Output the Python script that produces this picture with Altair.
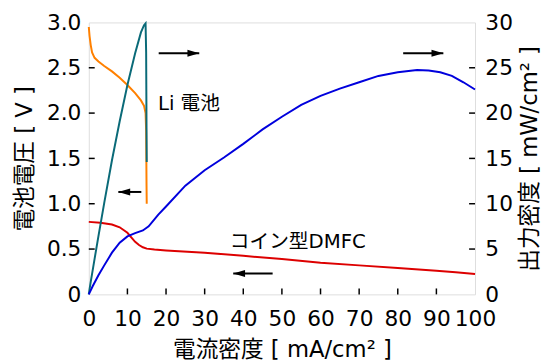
import altair as alt
import pandas as pd

# Li battery: voltage (V) and power density (mW/cm2) vs current density (mA/cm2)
li_I = [0, 0.2, 0.5, 0.85, 1.5, 2.5, 4, 6, 8, 10, 12, 13.5, 14.3, 14.7, 14.85, 14.9, 14.95, 15.0]
li_V = [2.95, 2.85, 2.75, 2.67, 2.61, 2.57, 2.52, 2.46, 2.39, 2.31, 2.22, 2.14, 2.08, 2.0, 1.8, 1.5, 1.2, 1.0]
li_P = [0, 0.57, 1.38, 2.27, 3.92, 6.43, 10.1, 14.8, 19.1, 23.1, 26.6, 28.9, 29.7, 29.9, 26.7, 22.4, 17.9, 14.6]

# Coin-type DMFC voltage
dm_I_v = [0, 3, 6, 8, 10, 11, 12, 13, 14, 15, 17, 20, 30, 40, 50, 60, 70, 80, 90, 95, 100]
dm_V = [0.80, 0.79, 0.77, 0.74, 0.68, 0.63, 0.58, 0.545, 0.52, 0.505, 0.495, 0.485, 0.46,
        0.425, 0.39, 0.35, 0.32, 0.29, 0.26, 0.245, 0.225]

# Coin-type DMFC power density
dm_I_p = [0, 1, 2.5, 4, 6, 8, 10, 12, 14, 15.5, 18, 20, 25, 30, 35, 40, 45, 50, 55, 60,
          65, 70, 75, 80, 85, 88, 91, 94, 97, 100]
dm_P = [0, 0.9, 2.1, 3.2, 4.6, 5.7, 6.4, 6.75, 7.05, 7.5, 8.8, 9.7, 12.0, 13.7, 15.1, 16.6,
        18.2, 19.6, 20.9, 21.9, 22.7, 23.4, 24.1, 24.5, 24.75, 24.7, 24.5, 24.1, 23.4, 22.6]

x_ticks = [10, 20, 30, 40, 50, 60, 70, 80, 90]
v_ticks = [0.5, 1.0, 1.5, 2.0, 2.5]
p_ticks = [5, 10, 15, 20, 25]
x_labels = [0, 10, 20, 30, 40, 50, 60, 70, 80, 90, 100]
v_labels = [0, 0.5, 1.0, 1.5, 2.0, 2.5, 3.0]
p_labels = [0, 5, 10, 15, 20, 25, 30]

# arrows: (x_tail, x_tip, y) in data units (left axis)
arrow_x0 = [18.1, 81.4, 13.6, 47.6]
arrow_x1 = [28.6, 91.8, 7.65, 37.4]
arrow_y = [2.66, 2.66, 1.13, 0.23]
arrow_dir = ["r", "r", "l", "l"]

label_text = ["Li 電池", "コイン型DMFC"]
label_x = [17.9, 36.5]
label_y = [2.10, 0.576]

W, H = 392, 276
FONT = "DejaVu Sans, Noto Sans CJK JP"

xs = alt.Scale(domain=[0, 100], nice=False)
vs = alt.Scale(domain=[0, 3], nice=False)
ps = alt.Scale(domain=[0, 30], nice=False)

x_axis = alt.Axis(values=x_labels, title="電流密度 [ mA/cm² ]",
                  domain=False, ticks=False, tickSize=0, grid=False, labelPadding=15,
                  labelOverlap=False, labelFlush=False, labelSeparation=0,
                  labelFontSize=22, labelFont=FONT, labelColor="black",
                  titleFontSize=23, titleFont=FONT, titleFontWeight="normal", titleColor="black",
                  titleX=196, titleY=56, titleBaseline="middle", titleAlign="center")
v_axis = alt.Axis(values=v_labels, title="電池電圧 [ V ]",
                  labelExpr="datum.value == 0 ? '0' : format(datum.value, '.1f')",
                  labelOverlap=False, labelFlush=False,
                  domain=False, ticks=False, tickSize=0, grid=False, labelPadding=8,
                  labelFontSize=22, labelFont=FONT, labelColor="black",
                  titleFontSize=23, titleFont=FONT, titleFontWeight="normal", titleColor="black",
                  titleAngle=270, titleX=-65, titleY=H / 2, titleBaseline="middle", titleAlign="center")
p_axis = alt.Axis(values=p_labels, title="出力密度 [ mW/cm² ]", orient="right",
                  labelOverlap=False, labelFlush=False,
                  domain=False, ticks=False, tickSize=0, grid=False, labelPadding=10,
                  labelFontSize=22, labelFont=FONT, labelColor="black",
                  titleFontSize=23, titleFont=FONT, titleFontWeight="normal", titleColor="black",
                  titleAngle=270, titleX=55, titleY=H / 2, titleBaseline="middle", titleAlign="center")

li_df = pd.DataFrame({"I": li_I, "V": li_V, "P": li_P, "o": range(len(li_I))})
dmv_df = pd.DataFrame({"I": dm_I_v, "V": dm_V, "o": range(len(dm_I_v))})
dmp_df = pd.DataFrame({"I": dm_I_p, "P": dm_P, "o": range(len(dm_I_p))})


def X(f):
    return alt.X(f, scale=xs, axis=x_axis)


def YV(f):
    return alt.Y(f, scale=vs, axis=v_axis)


def YP(f):
    return alt.Y(f, scale=ps, axis=p_axis)


orange = alt.Chart(li_df).mark_line(color="#ff8000", strokeWidth=2).encode(
    x=X("I:Q"), y=YV("V:Q"), order="o:Q")
red = alt.Chart(dmv_df).mark_line(color="#dd0000", strokeWidth=2).encode(
    x=X("I:Q"), y=YV("V:Q"), order="o:Q")

ar_df = pd.DataFrame({"x0": arrow_x0, "x1": arrow_x1, "y": arrow_y, "d": arrow_dir})
shafts = alt.Chart(ar_df).mark_rule(color="black", strokeWidth=2).encode(
    x=X("x0:Q"), x2="x1:Q", y=YV("y:Q"))
heads_r = alt.Chart(ar_df).transform_filter("datum.d == 'r'").mark_point(
    shape="M-2,-0.6L0,0L-2,0.6Z", size=144, filled=True, color="black", opacity=1).encode(
    x=X("x1:Q"), y=YV("y:Q"))
heads_l = alt.Chart(ar_df).transform_filter("datum.d == 'l'").mark_point(
    shape="M2,-0.6L0,0L2,0.6Z", size=144, filled=True, color="black", opacity=1).encode(
    x=X("x1:Q"), y=YV("y:Q"))

lab_df = pd.DataFrame({"t": label_text, "x": label_x, "y": label_y})
labels = alt.Chart(lab_df).mark_text(align="left", baseline="middle", fontSize=20,
                                     font=FONT, color="black").encode(
    x=X("x:Q"), y=YV("y:Q"), text="t:N")

xt = alt.Chart(pd.DataFrame({"t": x_ticks})).mark_rule(color="black", strokeWidth=1.5).encode(
    x=X("t:Q"), y=alt.value(H), y2=alt.value(H - 6))
vt = alt.Chart(pd.DataFrame({"t": v_ticks})).mark_rule(color="black", strokeWidth=1.5).encode(
    y=YV("t:Q"), x=alt.value(0), x2=alt.value(6))

left = alt.layer(orange, red, shafts, heads_r, heads_l, labels, xt, vt)

teal = alt.Chart(li_df).mark_line(color="#0a6a78", strokeWidth=2).encode(
    x=X("I:Q"), y=YP("P:Q"), order="o:Q")
blue = alt.Chart(dmp_df).mark_line(color="#0000dd", strokeWidth=2).encode(
    x=X("I:Q"), y=YP("P:Q"), order="o:Q")
pt = alt.Chart(pd.DataFrame({"t": p_ticks})).mark_rule(color="black", strokeWidth=1.5).encode(
    y=YP("t:Q"), x=alt.value(W), x2=alt.value(W - 6))

right = alt.layer(teal, blue, pt)

chart = alt.layer(left, right).resolve_scale(y="independent").properties(
    width=W, height=H,
    autosize=alt.AutoSizeParams(type="none"),
    padding={"left": 82, "top": 12, "right": 69, "bottom": 68},
).configure_view(stroke="black", strokeWidth=2).configure(background="white")

chart.save("out.html", embed_options={"renderer": "svg", "actions": False})
